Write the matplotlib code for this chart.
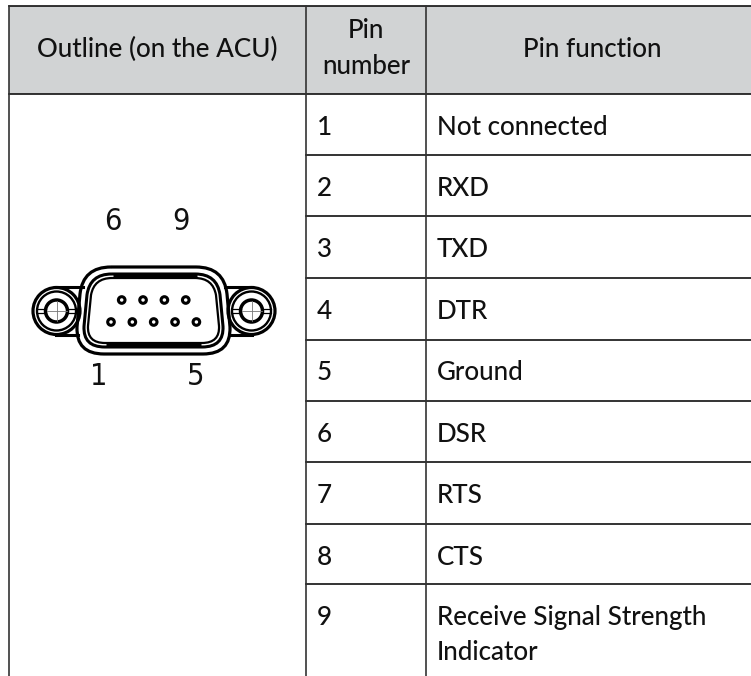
import matplotlib
matplotlib.use("Agg")
import matplotlib.pyplot as plt
from matplotlib.path import Path
from matplotlib.patches import PathPatch, Circle, Rectangle

headers = ["Outline (on the ACU)", "Pin\nnumber", "Pin function"]
pin_numbers = ["1", "2", "3", "4", "5", "6", "7", "8", "9"]
pin_functions = ["Not connected", "RXD", "TXD", "DTR", "Ground", "DSR", "RTS", "CTS",
                 "Receive Signal Strength\nIndicator"]
row_lines = [94, 155, 216, 278, 339.5, 401, 462, 524, 584]
top_pins = 4
bottom_pins = 5
outline_labels = ["6", "9", "1", "5"]

INK = "#111111"
FS = 18.7
plt.rcParams['font.family'] = ['Lato', 'DejaVu Sans']
plt.rcParams['font.weight'] = 'medium'

fig = plt.figure(figsize=(7.51, 6.76), dpi=100)
ax = fig.add_axes([0, 0, 1, 1])
ax.set_xlim(0, 751)
ax.set_ylim(676, 0)
ax.axis('off')

# table
ax.add_patch(Rectangle((8.5, 6), 743, 88, fc="#d1d3d4", ec="none"))
ax.plot([8.5, 751], [6, 6], color=INK, lw=1.2)
for i, y in enumerate(row_lines):
    xs = [8.5, 751] if i == 0 else [306, 751]
    ax.plot(xs, [y, y], color=INK, lw=1.2)
for x in [8.5, 306, 426]:
    ax.plot([x, x], [6, 676], color="#333333", lw=1.2)

ax.text(157, 57, headers[0], ha='center', va='baseline', fontsize=FS, color=INK)
ax.text(366, 38, headers[1].split("\n")[0], ha='center', va='baseline', fontsize=FS, color=INK)
ax.text(366, 74, headers[1].split("\n")[1], ha='center', va='baseline', fontsize=FS, color=INK)
ax.text(592, 57, headers[2], ha='center', va='baseline', fontsize=FS, color=INK)

for top, num, func in zip(row_lines, pin_numbers, pin_functions):
    ax.text(317, top + 41, num, va='baseline', fontsize=FS, color=INK)
    for k, line in enumerate(func.split("\n")):
        ax.text(437, top + 41 + 35 * k, line, va='baseline', fontsize=FS, color=INK)


# connector drawing
def shell(inset, lw):
    x0, x1 = 84 + inset, 223 - inset
    x2, x3 = 77 + inset, 230 - inset
    yt, yb = 267 + inset, 354 - inset
    r = 27 - inset * 0.9
    verts = [(x0 + r, yt), (x1 - r, yt), (x1 + 1, yt), (x1 + 4, yt + r),
             (x3, yb - r), (x3 + 1, yb), (x3 - r, yb), (x2 + r, yb),
             (x2 - 1, yb), (x2, yb - r), (x0 - 4, yt + r), (x0 - 1, yt), (x0 + r, yt)]
    codes = [Path.MOVETO, Path.LINETO, Path.CURVE3, Path.CURVE3,
             Path.LINETO, Path.CURVE3, Path.CURVE3, Path.LINETO,
             Path.CURVE3, Path.CURVE3, Path.LINETO, Path.CURVE3, Path.CURVE3]
    ax.add_patch(PathPatch(Path(verts, codes), fc="none", ec="black", lw=lw, zorder=3))


def screw(cx, cy):
    for r, lw in [(23.5, 2.3), (19.5, 1.7), (11, 2.5)]:
        ax.add_patch(Circle((cx, cy), r, fc="none", ec="black", lw=lw, zorder=3))
    for s in (-1, 1):
        ax.plot([cx + s * 11, cx + s * 19], [cy - 2, cy - 2], color="black", lw=0.9, zorder=3)
        ax.plot([cx + s * 11, cx + s * 19], [cy + 2, cy + 2], color="black", lw=0.9, zorder=3)
    ax.plot([cx - 10, cx + 10], [cy, cy], color="#777777", lw=0.6, zorder=3)
    ax.plot([cx, cx], [cy - 10, cy + 10], color="#777777", lw=0.6, zorder=3)


shell(0, 2.3)
shell(7, 2.2)
shell(11, 1.6)
ax.plot([113, 197], [275, 275], color="black", lw=3.4, zorder=3, solid_capstyle='butt')
ax.plot([106, 201], [344, 344], color="black", lw=3.4, zorder=3, solid_capstyle='butt')

for cx in (56.5, 251.5):
    screw(cx, 311)
ax.plot([56, 83], [287, 287], color="black", lw=2.2)
ax.plot([56, 78], [335, 335], color="black", lw=2.2)
ax.plot([225, 252], [287, 287], color="black", lw=2.2)
ax.plot([229, 252], [335, 335], color="black", lw=2.2)

pitch = 21.35
for i in range(top_pins):
    ax.add_patch(Circle((121.7 + pitch * i, 300), 3.3, fc="none", ec="black", lw=2.2, zorder=3))
for i in range(bottom_pins):
    ax.add_patch(Circle((111 + pitch * i, 322), 3.3, fc="none", ec="black", lw=2.2, zorder=3))

for label, x, y in zip(outline_labels, [112.7, 181, 99, 196], [230, 230, 385, 385]):
    ax.text(x, y, label, ha='center', va='baseline', fontsize=22, color=INK,
            family='DejaVu Sans', stretch='condensed')

fig.savefig("out.png", dpi=100)
